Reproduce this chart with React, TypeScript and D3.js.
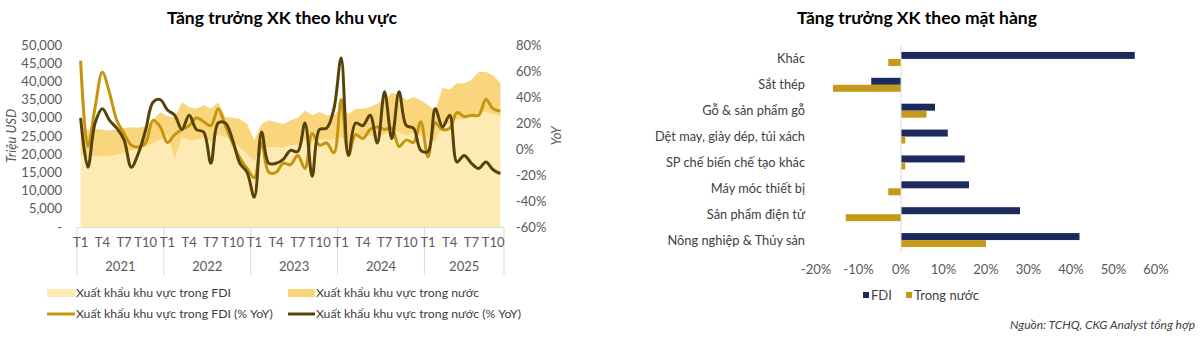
import React from "react";
import * as d3 from "d3";

// ---------- Left chart data ----------
const years = ["2021", "2022", "2023", "2024", "2025"];
const monthsPerYear = [12, 12, 12, 12, 11];
const monthTickLabels = ["T1", "T4", "T7", "T10"];

// Monthly exports, million USD
const fdiExport = [
  20000, 19000, 19500, 19300, 19500, 19800, 20500, 21000, 21500, 22000, 23000, 24000,
  25300, 18400, 24700, 23900, 23900, 24700, 23400, 25300, 24700, 23900, 21700, 20100,
  17900, 21700, 22000, 22000, 21700, 22500, 22500, 24000, 23500, 24000, 24000, 24000,
  24700, 21700, 24700, 24700, 25000, 24500, 25500, 26500, 26000, 25000, 26000, 25000,
  24500, 23500, 28000, 28500, 29500, 29500, 30000, 31500, 31500, 31000, 30500,
];
const domesticExport = [
  7500, 7500, 7500, 7400, 7000, 7000, 6800, 6400, 5800, 5700, 6500, 7500,
  5200, 11600, 9600, 9100, 8600, 8800, 9100, 9000, 5500, 6100, 8000, 8200,
  6000, 6600, 7300, 6800, 6600, 6800, 7500, 8000, 7200, 7600, 6700, 6700,
  8300, 9300, 7800, 7800, 8000, 9400, 9300, 10300, 10500, 9800, 9700, 9800,
  9000, 8500, 10200, 9300, 10000, 10000, 10400, 11100, 11100, 10700, 9000,
];
// YoY growth, %
const fdiYoY = [
  68, 2, 32, 59, 43, 22, 12, 3, 1.5, 5, 22, 17,
  5, 11, 15, 18, 24, 21, 18, 31, 18, 4.6, -7, -15,
  -22, 5, -18, -18, -11, -12, -5, -15, 12, 3, 4.6, -3,
  38, -5, 11, 8, 15, 17, 15, 16, 2, 7, 5, 21,
  -6, 20, 15, 16, 28, 25, 26, 26, 38, 31, 29,
];
const domesticYoY = [
  24, -14, 20, 31, 22, 16, 7, -14, -3, 15, 36, 38,
  30, 26, 15, 26, 15, 13, -11, 20, 20, 7, -11, -18,
  -37, 13, -11, -11, -8, -1, -2, 20, -21, 15, 16, 31,
  70, -5, 20, 18, 26, 4.6, 44, 8, 44, 18, 16, -1,
  -2, 31, 17, 26, -10, -5, -11, -15, -10, -16, -19,
];
const leftTicks = [0, 5000, 10000, 15000, 20000, 25000, 30000, 35000, 40000, 45000, 50000];
const rightTicks = [-60, -40, -20, 0, 20, 40, 60, 80];

// ---------- Right chart data ----------
const products = [
  "Khác",
  "Sắt thép",
  "Gỗ & sản phẩm gỗ",
  "Dệt may, giày dép, túi xách",
  "SP chế biến chế tạo khác",
  "Máy móc thiết bị",
  "Sản phẩm điện tử",
  "Nông nghiệp & Thủy sản",
];
const productFDI = [55, -7, 8, 11, 15, 16, 28, 42];
const productDomestic = [-3, -16, 6, 1, 1, -3, -13, 20];
const productTicks = [-20, -10, 0, 10, 20, 30, 40, 50, 60];

const C = {
  paleArea: "#FEEBB4",
  darkArea: "#F9D67C",
  goldLine: "#C4950E",
  darkLine: "#574208",
  navy: "#1C2A5E",
  gold: "#C59A1A",
  axis: "#D9D9D9",
  tick: "#595959",
  text: "#404040",
};
const FONT = "Lato, 'Open Sans', sans-serif";

export default function App() {
  const months: { year: number; m: number }[] = [];
  monthsPerYear.forEach((cnt, yi) => {
    for (let m = 0; m < cnt; m++) months.push({ year: yi, m });
  });
  const n = months.length;
  const idx = d3.range(n);
  const x = d3.scaleBand<number>().domain(idx).range([77, 504]).padding(0);
  const cx = (i: number) => (x(i) as number) + x.bandwidth() / 2;
  const yL = d3.scaleLinear().domain([0, 50000]).range([227, 45]);
  const yR = d3.scaleLinear().domain([-60, 80]).range([227, 45]);

  const table = idx.map((i) => ({ i, fdi: fdiExport[i], dom: domesticExport[i] }));
  const stacked = d3.stack<any>().keys(["fdi", "dom"])(table);
  const area = d3
    .area<any>()
    .x((d) => cx(d.data.i))
    .y0((d) => yL(d[0]))
    .y1((d) => yL(d[1]));
  const line = d3
    .line<number>()
    .x((_, i) => cx(i))
    .y((d) => yR(d))
    .curve(d3.curveCatmullRom.alpha(0.5));

  const yearStarts: number[] = [];
  let acc = 0;
  monthsPerYear.forEach((c) => {
    yearStarts.push(acc);
    acc += c;
  });

  const xP = d3.scaleLinear().domain([-20, 60]).range([816, 1156]);
  const yP = d3.scaleBand<string>().domain(products).range([46, 253]).padding(0);
  const sub = d3
    .scaleBand<string>()
    .domain(["fdi", "dom"])
    .range([0, yP.bandwidth()])
    .paddingInner(0)
    .paddingOuter(0.85);

  return (
    <div style={{ position: "absolute", left: 0, top: 0 }}>
      <svg width={1200} height={337} style={{ display: "block", fontFamily: FONT }}>
        <rect width={1200} height={337} fill="#fff" />
        {/* ---------- Left chart ---------- */}
        <text x={282} y={24} textAnchor="middle" fontSize={17.5} fontWeight={700} fill="#000">
          Tăng trưởng XK theo khu vực
        </text>
        {stacked.map((s, k) => (
          <path key={k} d={area(s as any) || ""} fill={k === 0 ? C.paleArea : C.darkArea} />
        ))}
        <path d={line(fdiYoY) || ""} fill="none" stroke={C.goldLine} strokeWidth={3} />
        <path d={line(domesticYoY) || ""} fill="none" stroke={C.darkLine} strokeWidth={3} />

        <line x1={77} x2={504} y1={227.5} y2={227.5} stroke={C.axis} />
        {[...yearStarts.map((s) => x(s) as number), 504].map((xx, k) => (
          <line key={k} x1={xx} x2={xx} y1={227} y2={275} stroke={C.axis} />
        ))}
        {months.map((mo, i) =>
          mo.m % 3 === 0 ? (
            <text key={i} x={cx(i)} y={247} textAnchor="middle" fontSize={13} fill={C.tick}>
              {monthTickLabels[mo.m / 3]}
            </text>
          ) : null
        )}
        {years.map((yr, k) => {
          const s = yearStarts[k];
          const e = s + monthsPerYear[k];
          const mid = ((x(s) as number) + (e < n ? (x(e) as number) : 504)) / 2;
          return (
            <text key={yr} x={mid} y={271} textAnchor="middle" fontSize={13} fill={C.tick}>
              {yr}
            </text>
          );
        })}
        {leftTicks.map((v) => (
          <text key={v} x={62} y={yL(v)} dy="0.35em" textAnchor="end" fontSize={13} fill={C.tick}>
            {v === 0 ? "-" : d3.format(",")(v)}
          </text>
        ))}
        {rightTicks.map((v) => (
          <text key={v} x={516} y={yR(v)} dy="0.35em" textAnchor="start" fontSize={13} fill={C.tick}>
            {v + "%"}
          </text>
        ))}
        <text
          transform="translate(16,136) rotate(-90)"
          textAnchor="middle"
          fontSize={13}
          fontStyle="italic"
          fill={C.tick}
        >
          Triệu USD
        </text>
        <text
          transform="translate(561,136) rotate(-90)"
          textAnchor="middle"
          fontSize={13}
          fontStyle="italic"
          fill={C.tick}
        >
          YoY
        </text>

        {/* legend */}
        <rect x={47} y={289} width={28} height={8} fill={C.paleArea} />
        <text x={76} y={293} dy="0.35em" fontSize={12.3} fill={C.text}>
          Xuất khẩu khu vực trong FDI
        </text>
        <rect x={288} y={289} width={27} height={8} fill={C.darkArea} />
        <text x={316} y={293} dy="0.35em" fontSize={12.3} fill={C.text}>
          Xuất khẩu khu vực trong nước
        </text>
        <line x1={47} x2={75} y1={314} y2={314} stroke={C.goldLine} strokeWidth={3} />
        <text x={76} y={314} dy="0.35em" fontSize={12.3} fill={C.text}>
          Xuất khẩu khu vực trong FDI (% YoY)
        </text>
        <line x1={288} x2={315} y1={314} y2={314} stroke={C.darkLine} strokeWidth={3} />
        <text x={316} y={314} dy="0.35em" fontSize={12.3} fill={C.text}>
          Xuất khẩu khu vực trong nước (% YoY)
        </text>

        {/* ---------- Right chart ---------- */}
        <text x={917} y={24} textAnchor="middle" fontSize={17.5} fontWeight={700} fill="#000">
          Tăng trưởng XK theo mặt hàng
        </text>
        {products.map((p, k) => {
          const y0 = yP(p) as number;
          const vals = [
            { key: "fdi", v: productFDI[k], c: C.navy },
            { key: "dom", v: productDomestic[k], c: C.gold },
          ];
          return (
            <g key={p}>
              {vals.map((b) => (
                <rect
                  key={b.key}
                  x={Math.min(xP(0), xP(b.v))}
                  y={y0 + (sub(b.key) as number)}
                  width={Math.abs(xP(b.v) - xP(0))}
                  height={sub.bandwidth()}
                  fill={b.c}
                />
              ))}
              <text
                x={805}
                y={y0 + yP.bandwidth() / 2}
                dy="0.35em"
                textAnchor="end"
                fontSize={12.8}
                fill={C.text}
              >
                {p}
              </text>
            </g>
          );
        })}
        <line x1={xP(0)} x2={xP(0)} y1={46} y2={253} stroke={C.axis} />
        {productTicks.map((v) => (
          <text key={v} x={xP(v)} y={269} dy="0.35em" textAnchor="middle" fontSize={13} fill={C.tick}>
            {v + "%"}
          </text>
        ))}
        <rect x={863} y={292} width={6} height={6} fill={C.navy} />
        <text x={871} y={295} dy="0.35em" fontSize={13} fill={C.text}>
          FDI
        </text>
        <rect x={906} y={292} width={6} height={6} fill={C.gold} />
        <text x={914} y={295} dy="0.35em" fontSize={13} fill={C.text}>
          Trong nước
        </text>
        <text
          x={1195}
          y={325}
          dy="0.35em"
          textAnchor="end"
          fontSize={12}
          fontStyle="italic"
          fill={C.text}
        >
          Nguồn: TCHQ, CKG Analyst tổng hợp
        </text>
      </svg>
    </div>
  );
}
